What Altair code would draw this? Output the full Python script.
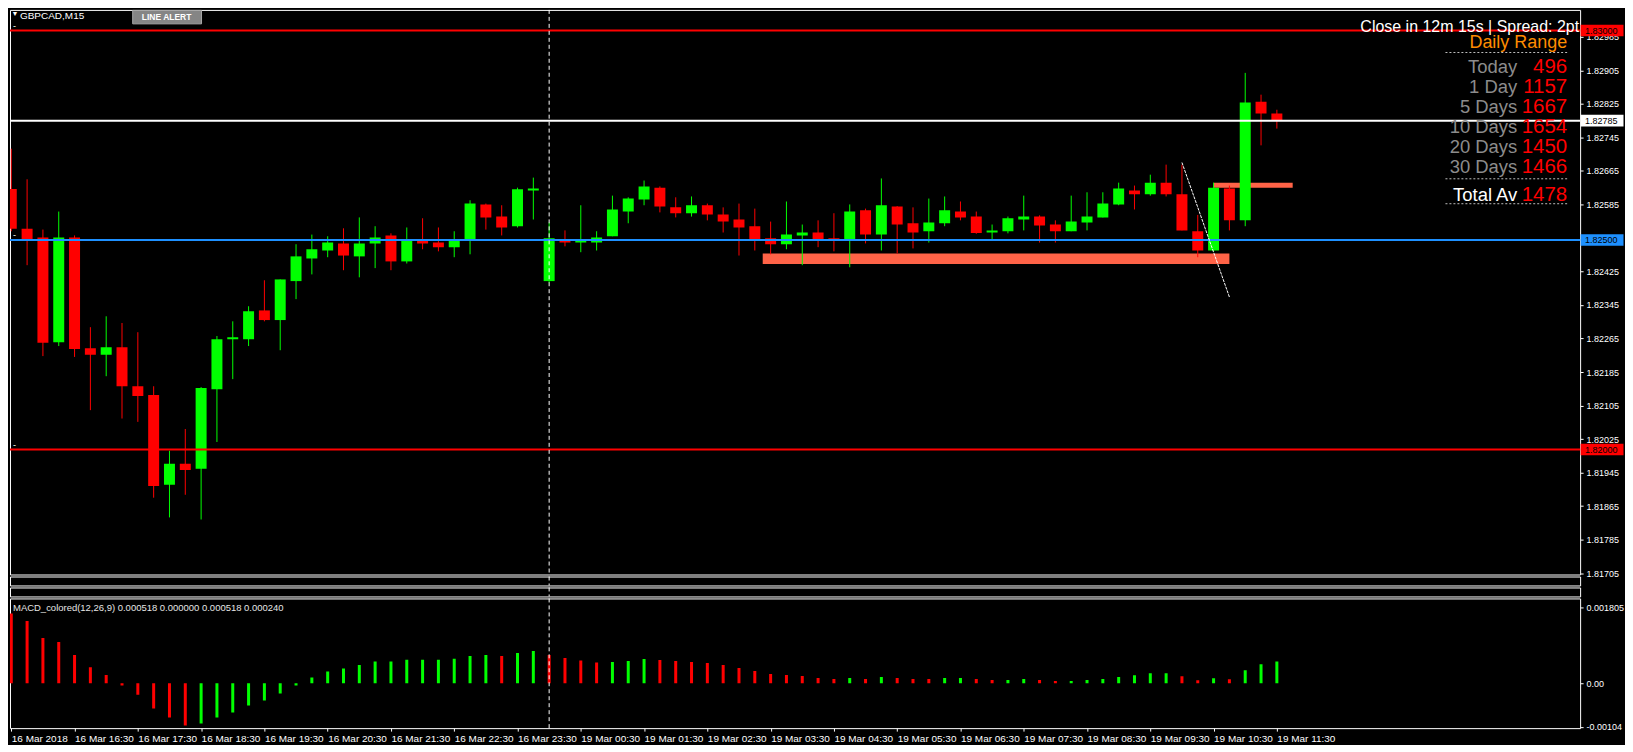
import altair as alt
import pandas as pd

# ---------------- data ----------------
OPEN = [1.82622, 1.82527, 1.82506, 1.82256, 1.82506, 1.82242, 1.82226, 1.82244, 1.82151, 1.82130,
        1.81916, 1.81966, 1.81954, 1.82144, 1.82263, 1.82263, 1.82332, 1.82309, 1.82402, 1.82456,
        1.82475, 1.82492, 1.82461, 1.82492, 1.82511, 1.82449, 1.82499, 1.82494, 1.82483, 1.82502,
        1.82585, 1.82556, 1.82533, 1.82618, 1.82402, 1.82499, 1.82494, 1.82494, 1.82509, 1.82568,
        1.82597, 1.82625, 1.82578, 1.82564, 1.82583, 1.82561, 1.82549, 1.82533, 1.82504, 1.82490,
        1.82511, 1.82518, 1.82504, 1.82502, 1.82571, 1.82513, 1.82580, 1.82540, 1.82521, 1.82540,
        1.82568, 1.82556, 1.82518, 1.82521, 1.82549, 1.82556, 1.82537, 1.82521, 1.82542, 1.82554,
        1.82585, 1.82618, 1.82609, 1.82637, 1.82609, 1.82521, 1.82475, 1.82623, 1.82547, 1.82830,
        1.82802]
HIGH = [1.82718, 1.82645, 1.82525, 1.82568, 1.82511, 1.82292, 1.82318, 1.82302, 1.82280, 1.82151,
        1.81997, 1.82049, 1.82149, 1.82271, 1.82306, 1.82342, 1.82404, 1.82406, 1.82490, 1.82513,
        1.82509, 1.82528, 1.82554, 1.82533, 1.82516, 1.82530, 1.82552, 1.82530, 1.82521, 1.82595,
        1.82587, 1.82583, 1.82625, 1.82649, 1.82542, 1.82523, 1.82583, 1.82521, 1.82606, 1.82602,
        1.82642, 1.82628, 1.82602, 1.82604, 1.82587, 1.82578, 1.82587, 1.82575, 1.82544, 1.82592,
        1.82537, 1.82547, 1.82564, 1.82585, 1.82575, 1.82647, 1.82581, 1.82578, 1.82599, 1.82604,
        1.82592, 1.82568, 1.82537, 1.82556, 1.82606, 1.82559, 1.82547, 1.82606, 1.82614, 1.82614,
        1.82637, 1.82630, 1.82656, 1.82680, 1.82680, 1.82560, 1.82637, 1.82630, 1.82899, 1.82847,
        1.82811]
LOW = [1.82521, 1.82440, 1.82223, 1.82247, 1.82221, 1.82094, 1.82175, 1.82074, 1.82066, 1.81885,
       1.81838, 1.81892, 1.81833, 1.82018, 1.82168, 1.82247, 1.82306, 1.82237, 1.82359, 1.82418,
       1.82459, 1.82428, 1.82411, 1.82433, 1.82428, 1.82444, 1.82478, 1.82473, 1.82459, 1.82466,
       1.82525, 1.82511, 1.82530, 1.82549, 1.82398, 1.82485, 1.82471, 1.82475, 1.82509, 1.82540,
       1.82583, 1.82566, 1.82554, 1.82556, 1.82547, 1.82518, 1.82463, 1.82475, 1.82466, 1.82478,
       1.82440, 1.82483, 1.82473, 1.82435, 1.82492, 1.82475, 1.82468, 1.82480, 1.82494, 1.82533,
       1.82547, 1.82515, 1.82502, 1.82516, 1.82523, 1.82494, 1.82494, 1.82521, 1.82523, 1.82554,
       1.82583, 1.82573, 1.82606, 1.82604, 1.82523, 1.82459, 1.82473, 1.82523, 1.82533, 1.82726,
       1.82766]
CLOSE = [1.82527, 1.82502, 1.82255, 1.82506, 1.82240, 1.82226, 1.82244, 1.82151, 1.82128, 1.81913,
         1.81966, 1.81951, 1.82147, 1.82263, 1.82268, 1.82330, 1.82309, 1.82406, 1.82461, 1.82478,
         1.82494, 1.82463, 1.82492, 1.82506, 1.82449, 1.82499, 1.82492, 1.82483, 1.82499, 1.82587,
         1.82554, 1.82530, 1.82621, 1.82623, 1.82504, 1.82494, 1.82499, 1.82506, 1.82573, 1.82599,
         1.82628, 1.82580, 1.82564, 1.82583, 1.82561, 1.82544, 1.82530, 1.82502, 1.82490, 1.82513,
         1.82518, 1.82502, 1.82499, 1.82568, 1.82513, 1.82583, 1.82537, 1.82518, 1.82542, 1.82571,
         1.82554, 1.82517, 1.82523, 1.82552, 1.82556, 1.82535, 1.82521, 1.82544, 1.82556, 1.82587,
         1.82623, 1.82609, 1.82637, 1.82609, 1.82523, 1.82475, 1.82625, 1.82547, 1.82828, 1.82802,
         1.82785]
MACD = [0.001663, 0.001481, 0.001077, 0.000982, 0.000673, 0.000380, 0.000198, -0.000055, -0.000277, -0.000602,
        -0.000816, -0.001006, -0.000958, -0.000816, -0.000697, -0.000531, -0.000412, -0.000246, -0.000055, 0.000135,
        0.000277, 0.000348, 0.000436, 0.000515, 0.000515, 0.000562, 0.000562, 0.000562, 0.000586, 0.000649,
        0.000673, 0.000649, 0.000721, 0.000768, 0.000673, 0.000602, 0.000539, 0.000491, 0.000507, 0.000531,
        0.000578, 0.000554, 0.000531, 0.000507, 0.000483, 0.000436, 0.000364, 0.000293, 0.000222, 0.000198,
        0.000174, 0.000127, 0.000103, 0.000127, 0.000103, 0.000150, 0.000127, 0.000103, 0.000103, 0.000127,
        0.000127, 0.000103, 0.000079, 0.000079, 0.000103, 0.000079, 0.000055, 0.000055, 0.000079, 0.000103,
        0.000150, 0.000190, 0.000238, 0.000238, 0.000166, 0.000071, 0.000119, 0.000095, 0.000309, 0.000451,
        0.000518]
MACD_DIR = (["down"] * 12 + ["up"] * 19 + ["down"] + ["up"] * 2 + ["down"] * 4 + ["up"] * 3 +
            ["down"] * 12 + ["up"] + ["down"] + ["up"] + ["down"] * 3 + ["up"] * 2 + ["down"] * 2 +
            ["up"] * 2 + ["down"] * 2 + ["up"] * 7 + ["down"] * 2 + ["up"] + ["down"] + ["up"] * 3)

TIME_TICKS = [0, 4, 8, 12, 16, 20, 24, 28, 32, 36, 40, 44, 48, 52, 56, 60, 64, 68, 72, 76, 80]
TIME_LABELS = ["16 Mar 2018", "16 Mar 16:30", "16 Mar 17:30", "16 Mar 18:30", "16 Mar 19:30",
               "16 Mar 20:30", "16 Mar 21:30", "16 Mar 22:30", "16 Mar 23:30",
               "19 Mar 00:30", "19 Mar 01:30", "19 Mar 02:30", "19 Mar 03:30", "19 Mar 04:30",
               "19 Mar 05:30", "19 Mar 06:30", "19 Mar 07:30", "19 Mar 08:30", "19 Mar 09:30",
               "19 Mar 10:30", "19 Mar 11:30"]
PRICE_TICKS = [1.81705, 1.81785, 1.81865, 1.81945, 1.82025, 1.82105, 1.82185, 1.82265, 1.82345,
               1.82425, 1.82505, 1.82585, 1.82665, 1.82745, 1.82825, 1.82905, 1.82985]
MACD_TICKS = [0.001805, 0.0, -0.00104]
MACD_TICK_TEXT = ["0.001805", "0.00", "-0.00104"]

LEVEL_PRICES = [1.83000, 1.82000, 1.82500, 1.82785]
LEVEL_TEXT = ["1.83000", "1.82000", "1.82500", "1.82785"]
MARK_PRICES = [1.83000, 1.82500, 1.82000]

ZONE_X1 = [47.5, 76]
ZONE_X2 = [77, 81]
ZONE_P1 = [1.82468, 1.82637]
ZONE_P2 = [1.82443, 1.82625]
TREND_X = [74, 77]
TREND_P = [1.82685, 1.82364]
SEP_BAR = 34

DR_LABELS = ["Today", "1 Day", "5 Days", "10 Days", "20 Days", "30 Days"]
DR_VALUES = ["496", "1157", "1667", "1654", "1450", "1466"]
DR_TOTAL = "1478"
MACD_TITLE = "MACD_colored(12,26,9) 0.000518 0.000000 0.000518 0.000240"

# ---------------- styles ----------------
LEVEL_COLORS = ["#FF0000", "#FF0000", "#1E90FF", "#FFFFFF"]
LEVEL_WIDTHS = [2, 2, 2, 1]
FONT = "Liberation Sans"

# ---------------- tables ----------------
df = pd.DataFrame({"i": list(range(len(OPEN))), "open": OPEN, "high": HIGH, "low": LOW,
                   "close": CLOSE, "macd": MACD, "mdir": MACD_DIR})
df["dir"] = ["up" if c >= o else "down" for o, c in zip(OPEN, CLOSE)]
levels = pd.DataFrame({"price": LEVEL_PRICES, "label": LEVEL_TEXT})
marks = pd.DataFrame({"price": MARK_PRICES})
zones = pd.DataFrame({"x1": ZONE_X1, "x2": ZONE_X2, "p1": ZONE_P1, "p2": ZONE_P2})
trend = pd.DataFrame({"x1": [TREND_X[0]], "x2": [TREND_X[1]], "p1": [TREND_P[0]], "p2": [TREND_P[1]]})
one = pd.DataFrame({"k": [0]})

# ---------------- layout ----------------
MW, MH = 1574, 566
B1, B2, MACD_H = 9, 9, 130


def LX(X):
    # overlay position: page x equals the reference x (the page has an 8px margin)
    return max(X - 8, 1)


def LY(Y):
    return Y - 8


XS = alt.Scale(domain=[-0.081, 99.169], nice=False, zero=False, padding=0)
YS = alt.Scale(domain=[1.8170167, 1.8304929], nice=False, zero=False, padding=0)
MS = alt.Scale(domain=[-0.0010688, 0.0020188], nice=False, zero=False, padding=0)
CS = alt.Scale(domain=["up", "down"], range=["#00FF00", "#FF0000"])
LCS = alt.Scale(domain=LEVEL_TEXT, range=LEVEL_COLORS)
LWS = alt.Scale(domain=LEVEL_TEXT, range=LEVEL_WIDTHS)

YAX = alt.Axis(orient="right", values=PRICE_TICKS, format=".5f", tickSize=3, tickColor="white",
               domain=False, labelColor="white", labelFontSize=9, labelPadding=3, labelFont=FONT,
               grid=False, title=None, zindex=0, labelOverlap=False)


def Xi(f):
    return alt.X(f, type="quantitative", scale=XS, axis=None)


def Yp(f):
    return alt.Y(f, type="quantitative", scale=YS, axis=YAX)


def txt(text, x, y, size, color, align="left", baseline="alphabetic", weight="normal", font=FONT):
    return alt.Chart(one).mark_text(text=text, align=align, baseline=baseline, fontSize=size,
                                    color=color, fontWeight=weight, font=font).encode(
        x=alt.value(x), y=alt.value(y))


def dash(X1, X2, Y):
    return alt.Chart(one).mark_rule(color="#BDBDBD", strokeDash=[2, 2], strokeWidth=1).encode(
        x=alt.value(LX(X1)), x2=alt.value(LX(X2)), y=alt.value(LY(Y)))


base = alt.Chart(df)
zone_layer = alt.Chart(zones).mark_rect(color="#FF6347", clip=True).encode(
    x=Xi("x1"), x2="x2", y=Yp("p1"), y2="p2")
wicks = base.mark_rule(strokeWidth=1, clip=True).encode(
    x=Xi("i"), y=Yp("low"), y2="high", color=alt.Color("dir:N", scale=CS, legend=None))
bodies = base.mark_bar(size=11, strokeWidth=0, clip=True).encode(
    x=Xi("i"), y=Yp("open"), y2="close", color=alt.Color("dir:N", scale=CS, legend=None))
level_rules = alt.Chart(levels).mark_rule().encode(
    y=Yp("price"), stroke=alt.Stroke("label:N", scale=LCS, legend=None),
    strokeWidth=alt.StrokeWidth("label:N", scale=LWS, legend=None))
sep_main = alt.Chart(one).mark_rule(color="white", strokeDash=[4, 3], strokeWidth=1).encode(
    x=alt.X(datum=SEP_BAR, type="quantitative", scale=XS, axis=None))
trend_layer = alt.Chart(trend).mark_rule(color="white", strokeWidth=1, strokeDash=[3, 1], clip=True).encode(
    x=Xi("x1"), x2="x2", y=Yp("p1"), y2="p2")
level_boxes = alt.Chart(levels).mark_point(
    shape="M-1,-0.27L1,-0.27L1,0.27L-1,0.27Z", filled=True, size=1849, opacity=1, strokeWidth=0).encode(
    x=alt.value(MW + 22), y=Yp("price"), fill=alt.Fill("label:N", scale=LCS, legend=None))
level_text = alt.Chart(levels).mark_text(align="left", baseline="middle", fontSize=9, color="black",
                                         font=FONT).encode(
    x=alt.value(MW + 5), y=Yp("price"), text="label:N")
left_marks = alt.Chart(marks).mark_text(text="-", align="left", baseline="middle", fontSize=9,
                                        color="white", dy=-5, font=FONT).encode(
    x=alt.value(3), y=Yp("price"))

ann = [
    txt("\u25BC", 5, 4, 7, "white", align="center", baseline="middle"),
    txt("GBPCAD,M15", LX(18), 9, 10, "white"),
    alt.Chart(one).mark_rect(color="#858585", stroke="#A8A8A8", strokeWidth=1).encode(
        x=alt.value(LX(131)), x2=alt.value(LX(200)), y=alt.value(0.5), y2=alt.value(LY(22))),
    txt("LINE ALERT", LX(165), 7.5, 8.5, "white", align="center", baseline="middle", weight="bold",
        font="Liberation Sans Narrow, Liberation Sans"),
    txt("Close in 12m 15s | Spread: 2pt", LX(1581), LY(30.5), 16, "white", align="right"),
    txt("Daily Range", LX(1569), LY(46), 18, "#FF8C00", align="right"),
    dash(1447, 1570, 50.7),
    dash(1447, 1570, 177.3),
    dash(1447, 1570, 202.3),
    txt("Total Av", LX(1519), LY(199.5), 18.5, "white", align="right"),
    txt(DR_TOTAL, LX(1569), LY(199.5), 20.5, "#FF0000", align="right"),
]
for k, (lab, val) in enumerate(zip(DR_LABELS, DR_VALUES)):
    yb = 71.7 + 20 * k
    ann.append(txt(lab, LX(1519), LY(yb), 18.5, "#8C8C8C", align="right"))
    ann.append(txt(val, LX(1569), LY(yb), 20.5, "#FF0000", align="right"))

main = alt.layer(zone_layer, wicks, bodies, level_rules, sep_main, trend_layer,
                 level_boxes, level_text, left_marks, *ann).properties(width=MW, height=MH)


def box(h):
    return alt.Chart(one).mark_rule(color="white", strokeDash=[4, 3], strokeWidth=1).encode(
        x=alt.X(datum=SEP_BAR, type="quantitative", scale=XS, axis=None)).properties(width=MW, height=h)


label_expr = "[" + ",".join("'%s'" % s for s in TIME_LABELS) + "][round(datum.value/4)]"
XAX = alt.Axis(values=TIME_TICKS, labelExpr=label_expr, tickSize=3, tickColor="white", domain=False,
               labelColor="white", labelFontSize=10, labelFont=FONT, labelAlign="left", labelPadding=2,
               labelOffset=0, grid=False, title=None, labelOverlap=False, labelFlush=False)
macd_expr = ("datum.value > 0.001 ? '%s' : (datum.value < -0.0005 ? '%s' : '%s')"
             % (MACD_TICK_TEXT[0], MACD_TICK_TEXT[2], MACD_TICK_TEXT[1]))
MAX = alt.Axis(orient="right", values=MACD_TICKS, labelExpr=macd_expr, tickSize=3, tickColor="white",
               domain=False, labelColor="white", labelFontSize=9, labelFont=FONT, labelPadding=3,
               grid=False, title=None, labelOverlap=False)

macd_bars = base.mark_bar(size=3, strokeWidth=0, clip=True).encode(
    x=alt.X("i:Q", scale=XS, axis=XAX), y=alt.Y("macd:Q", scale=MS, axis=MAX), y2=alt.datum(0),
    color=alt.Color("mdir:N", scale=CS, legend=None))
sep_macd = alt.Chart(one).mark_rule(color="white", strokeDash=[4, 3], strokeWidth=1).encode(
    x=alt.X(datum=SEP_BAR, type="quantitative", scale=XS, axis=XAX))
macd_title = alt.Chart(one).mark_text(text=MACD_TITLE, align="left", baseline="middle", fontSize=9.5,
                                      color="#E6E6E6", font=FONT).encode(
    x=alt.value(3), y=alt.value(10))
macd = alt.layer(macd_bars, sep_macd, macd_title).properties(width=MW, height=MACD_H)

chart = alt.vconcat(main, box(B1), box(B2), macd, spacing=2, bounds="flush").properties(
    background="black", padding=0).configure_view(stroke="white", strokeWidth=1)

chart.save("out.html", embed_options={"renderer": "svg", "actions": False})
